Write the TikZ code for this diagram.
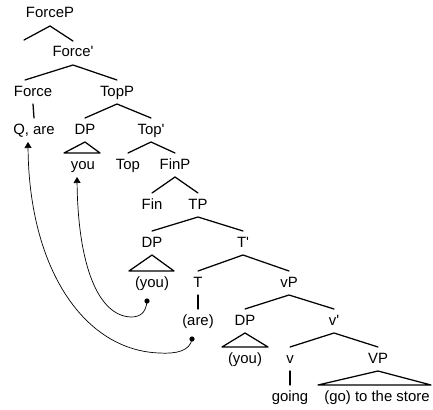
\documentclass[tikz,border=0pt]{standalone}
\usepackage{fontspec}
\setmainfont{Liberation Sans}[Ligatures=TeXOff]
\usetikzlibrary{arrows.meta}
\begin{document}
\begin{tikzpicture}[x=1pt,y=-1pt,
  cat/.style={anchor=base,inner sep=0pt,text height=11pt,text depth=3pt,
    outer ysep=5pt,font=\fontsize{14.9}{18}\selectfont},
  branch/.style={line width=1.25pt,line cap=round},
  mv/.style={line width=0.7pt,-{Triangle[width=7pt,length=6pt]}},
  trace/.style={fill=black}]
\useasboundingbox (0,0) rectangle (433,409);
% labels of the tree, row by row
\node[cat] (forcep) at (50,18) {ForceP};
\node[cat] (forcebar) at (73,57) {Force'};
\node[cat] (force) at (33,96) {Force};
\node[cat] (topp) at (117,96) {TopP};
\node[cat] (qare) at (34,134) {Q, are};
\node[cat] (dp1) at (85,134) {DP};
\node[cat] (topbar) at (151,134) {Top'};
\node[cat] (you1) at (83,169) {you};
\node[cat] (top) at (128,169) {Top};
\node[cat] (finp) at (175,169) {FinP};
\node[cat] (fin) at (152,209) {Fin};
\node[cat] (tp) at (198,209) {TP};
\node[cat] (dp2) at (152,247) {DP};
\node[cat] (tbar) at (243,247) {T'};
\node[cat] (you2) at (152,287) {(you)};
\node[cat] (t) at (198,287) {T};
\node[cat] (vp) at (289,287) {vP};
\node[cat] (are) at (198,325) {(are)};
\node[cat] (dp3) at (245,325) {DP};
\node[cat] (vbar) at (334,325) {v'};
\node[cat] (you3) at (245,363) {(you)};
\node[cat] (v) at (290,363) {v};
\node[cat] (bigvp) at (378,363) {VP};
\node[cat] (going) at (290,401) {going};
\node[cat] (store) at (377,401) {(go) to the store};
\coordinate (spec) at (24,40);
% branches
\draw[branch] (spec) -- (forcep.south) -- (forcebar.north);
\draw[branch] ([xshift=-8pt]force.north) -- (forcebar.south) -- (topp.north);
\draw[branch] (force.south) -- (qare.north);
\draw[branch] (dp1.north) -- (topp.south) -- (topbar.north);
\draw[branch] (top.north) -- (topbar.south) -- (finp.north);
\draw[branch] (fin.north) -- (finp.south) -- (tp.north);
\draw[branch] (dp2.north) -- (tp.south) -- (tbar.north);
\draw[branch] (t.north) -- (tbar.south) -- (vp.north);
\draw[branch] (t.south) -- (are.north);
\draw[branch] (dp3.north) -- (vp.south) -- (vbar.north);
\draw[branch] (v.north) -- (vbar.south) -- (bigvp.north);
\draw[branch] (v.south) -- (going.north);
% triangles over unanalysed phrases
\draw[branch,line join=round] ([xshift=-19pt]you1.north) -- (dp1.south) -- ([xshift=17pt]you1.north) -- cycle;
\draw[branch,line join=round] ([xshift=-23pt]you2.north) -- (dp2.south) -- ([xshift=22pt]you2.north) -- cycle;
\draw[branch,line join=round] ([xshift=-23pt]you3.north) -- (dp3.south) -- ([xshift=23pt]you3.north) -- cycle;
\draw[branch,line join=round] ([xshift=-59pt]store.north) -- (bigvp.south) -- ([xshift=54pt]store.north) -- cycle;
% movement arrows
\coordinate (d1) at (147,301);
\coordinate (d2) at (192,339);
\coordinate (land1) at ([xshift=-6pt]you1.south);
\coordinate (land2) at ([xshift=-6pt]qare.south);
\fill[trace] (d1) circle (2.6);
\fill[trace] (d2) circle (2.6);
\draw[mv] (d1) .. controls (146,313) and (140,317) .. (131,317)
  .. controls (98,316) and (78,265) .. (land1);
\draw[mv] (d2) .. controls (190,351) and (176,354) .. (160,353)
  .. controls (85,351) and (29,270) .. (land2);
\end{tikzpicture}
\end{document}
